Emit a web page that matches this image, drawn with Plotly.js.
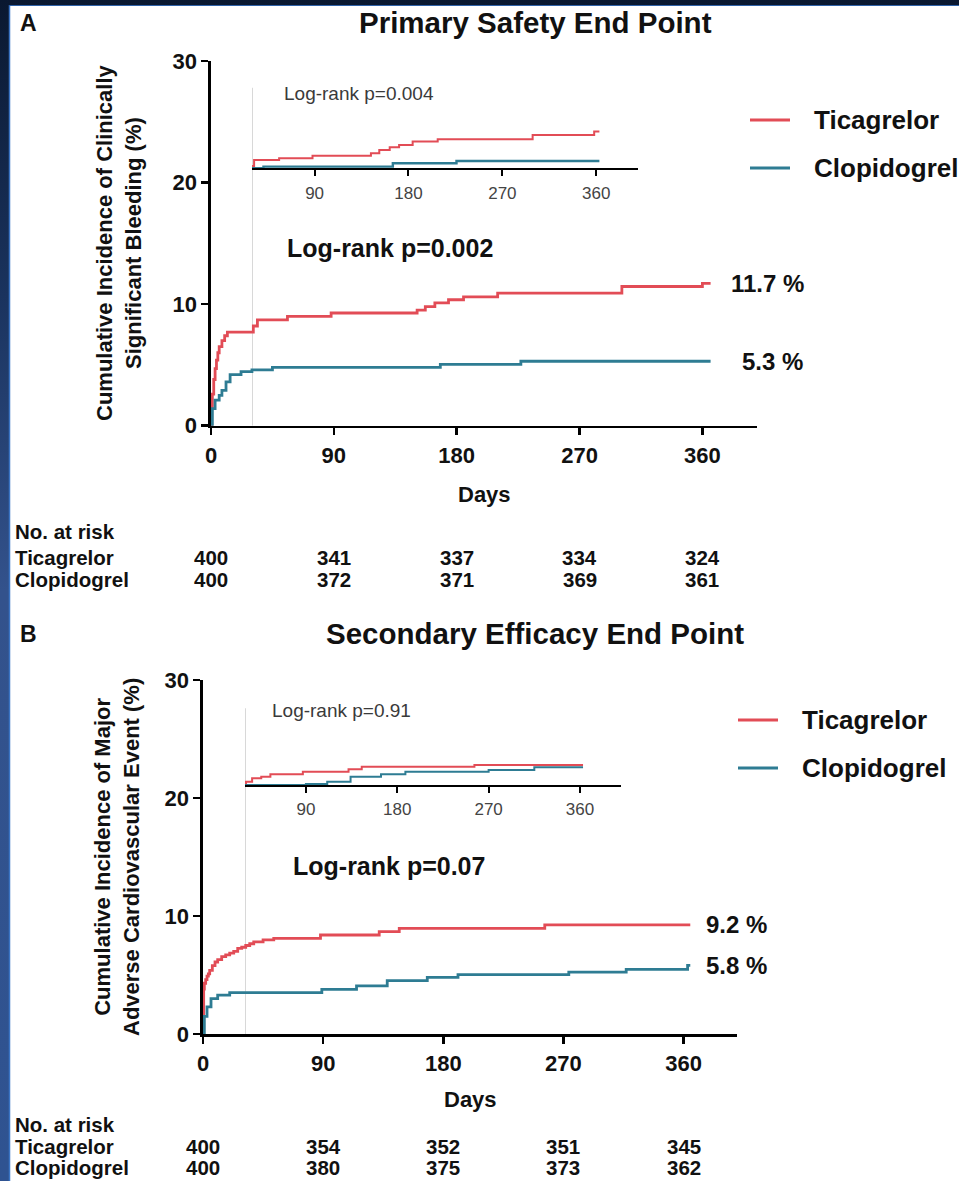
<!DOCTYPE html>
<html><head><meta charset="utf-8">
<script src="https://cdn.plot.ly/plotly-3.0.1.min.js"></script>
<style>
html,body{margin:0;padding:0;width:959px;height:1181px;overflow:hidden;
background:linear-gradient(to bottom,#0a1830 0%,#1a335e 25%,#33528c 50%,#2f5391 100%);}
#chart{position:absolute;left:0;top:0;width:959px;height:1181px;}
</style></head><body><div id="chart"></div>
<script>
// ---------- Data ----------
const seriesNames = ['Ticagrelor', 'Clopidogrel'];
const tickDays = [0, 90, 180, 270, 360];
const insetTickDays = [90, 180, 270, 360];

// Panel A - main curves (days, cumulative %)
const dayA_tic = [0,0.5,1,2,3,4,5,6,8,10,12,31,34,56,88,151,157,164,174,185,210,301,360,366];
const cumA_tic = [0,1.5,2.6,3.8,4.7,5.4,6.0,6.5,7.0,7.4,7.7,8.2,8.7,9.0,9.27,9.5,9.8,10.1,10.36,10.6,10.9,11.45,11.7,11.7];
const dayA_clo = [0,1,3,6,8,11,14,22,30,45,168,227,366];
const cumA_clo = [0,1.4,2.1,2.5,2.9,3.6,4.2,4.45,4.6,4.8,5.05,5.3,5.3];
// Panel A - inset (landmark from day 30)
const dayAi_tic = [30,31,32,56,88,144,152,162,171,184,208,299,358,363];
const cumAi_tic = [0,0.23,0.83,1.0,1.26,1.5,1.83,2.1,2.33,2.66,2.9,3.33,3.66,3.66];
const dayAi_clo = [30,41,165,226,363];
const cumAi_clo = [0,0.17,0.5,0.73,0.73];

// Panel B - main curves
const dayB_tic = [0,0.5,1,2,3,4,5,7,9,11,14,17,20,23,26,29,32,35,38,45,53,88,132,147,256,365];
const cumB_tic = [0,3.8,4.3,4.6,4.9,5.1,5.4,5.8,6.1,6.3,6.55,6.7,6.85,7.0,7.25,7.35,7.5,7.65,7.8,7.97,8.1,8.39,8.67,8.95,9.24,9.24];
const dayB_clo = [0,1,3,6,11,20,89,115,138,168,191,274,317,363,365];
const cumB_clo = [0,1.5,2.3,3.0,3.3,3.5,3.79,4.07,4.52,4.8,5.03,5.25,5.48,5.82,5.82];
// Panel B - inset
const dayBi_tic = [30,31,37,46,55,87,132,145,256,363];
const cumBi_tic = [0,0.33,0.67,0.83,1.07,1.33,1.57,1.83,2.0,2.0];
const dayBi_clo = [30,90,111,134,164,188,270,315,363];
const cumBi_clo = [0,0.1,0.33,0.83,1.07,1.33,1.5,1.77,1.77];

// Numbers at risk
const riskA_tic = [400,341,337,334,324];
const riskA_clo = [400,372,371,369,361];
const riskB_tic = [400,354,352,351,345];
const riskB_clo = [400,380,375,373,362];

// Texts
const titleA = 'Primary Safety End Point';
const titleB = 'Secondary Efficacy End Point';
const yTitleA = 'Cumulative Incidence of Clinically<br>Significant Bleeding (%)';
const yTitleB = 'Cumulative Incidence of Major<br>Adverse Cardiovascular Event (%)';
const pMainA = 'Log-rank p=0.002', pInsetA = 'Log-rank p=0.004';
const pMainB = 'Log-rank p=0.07',  pInsetB = 'Log-rank p=0.91';

// ---------- Styling ----------
const W = 959, H = 1181;
const px = x => x / W, py = y => 1 - y / H;
const FF = 'Liberation Sans, Arial, Helvetica, sans-serif';
const COLORS = ['#e24c56', '#2e7c93'];

function mainX(d0, d1, anchor){
  return {domain:[px(d0),px(d1)], anchor:anchor, range:[0,400], tickvals:tickDays,
    showline:true, linecolor:'#000', linewidth:2.6, ticks:'outside', ticklen:7, tickwidth:2.6,
    tickcolor:'#000', showgrid:false, zeroline:false, ticklabelstandoff:1,
    tickfont:{family:FF, size:22, color:'#111', weight:'bold'}};
}
function mainY(d0, d1, anchor){
  return {domain:[py(d0),py(d1)], anchor:anchor, range:[0,30], tickvals:[0,10,20,30],
    showline:true, linecolor:'#000', linewidth:2.6, ticks:'outside', ticklen:7, tickwidth:2.6,
    tickcolor:'#000', showgrid:false, zeroline:false,
    tickfont:{family:FF, size:22, color:'#111', weight:'bold'}};
}
function insetX(d0, d1, anchor){
  return {domain:[px(d0),px(d1)], anchor:anchor, range:[30,400], tickvals:insetTickDays,
    showline:true, linecolor:'#000', linewidth:2, ticks:'outside', ticklen:6, tickwidth:2,
    tickcolor:'#000', showgrid:false, zeroline:false, ticklabelstandoff:2,
    tickfont:{family:FF, size:17, color:'#444'}};
}
function insetY(d0, d1, anchor){
  return {domain:[py(d0),py(d1)], anchor:anchor, range:[0,8], visible:false, showgrid:false, zeroline:false};
}

function step(x, y, color, width, xa, ya, name){
  return {type:'scatter', mode:'lines', x:x, y:y, xaxis:xa, yaxis:ya, name:name,
    line:{color:color, width:width, shape:'hv'}, showlegend:false, hoverinfo:'skip'};
}

const data = [
  step(dayA_tic, cumA_tic, COLORS[0], 2.8, 'x', 'y', seriesNames[0]),
  step(dayA_clo, cumA_clo, COLORS[1], 2.8, 'x', 'y', seriesNames[1]),
  step(dayAi_tic, cumAi_tic, COLORS[0], 2, 'x2', 'y2', seriesNames[0]),
  step(dayAi_clo, cumAi_clo, COLORS[1], 2.4, 'x2', 'y2', seriesNames[1]),
  step(dayB_tic, cumB_tic, COLORS[0], 2.8, 'x3', 'y3', seriesNames[0]),
  step(dayB_clo, cumB_clo, COLORS[1], 2.8, 'x3', 'y3', seriesNames[1]),
  step(dayBi_tic, cumBi_tic, COLORS[0], 2, 'x4', 'y4', seriesNames[0]),
  step(dayBi_clo, cumBi_clo, COLORS[1], 2, 'x4', 'y4', seriesNames[1])
];

function ann(text, x, y, o){
  return Object.assign({text:text, x:x, y:y, xref:'paper', yref:'paper', showarrow:false,
    xanchor:'left', yanchor:'middle', font:{family:FF, size:20.5, color:'#111', weight:'bold'}}, o||{});
}
const bold = (s, c) => ({family:FF, size:s, color:c||'#111', weight:'bold'});

const annotations = [
  ann('A', px(18), py(23), {font:bold(23)}),
  ann(titleA, px(535), py(22), {xanchor:'center', font:bold(29.5)}),
  ann(yTitleA, px(119), py(243), {xanchor:'center', textangle:-90, font:bold(22)}),
  ann(pMainA, px(285), py(248), {font:bold(25)}),
  ann(pInsetA, px(282), py(93), {font:{family:FF, size:19, color:'#3a3a3a'}}),
  ann(cumA_tic[cumA_tic.length-1].toFixed(1)+' %', px(729), cumA_tic[cumA_tic.length-1], {yref:'y', font:bold(24)}),
  ann(cumA_clo[cumA_clo.length-1].toFixed(1)+' %', px(740), cumA_clo[cumA_clo.length-1], {yref:'y', font:bold(24)}),
  ann('Days', 200, py(495), {xref:'x', xanchor:'center', font:bold(22)}),
  ann('No. at risk', px(13), py(531)),
  ann(seriesNames[0], px(13), py(557)),
  ann(seriesNames[1], px(13), py(579)),

  ann('B', px(18), py(634), {font:bold(23)}),
  ann(titleB, px(535), py(633), {xanchor:'center', font:bold(29.5)}),
  ann(yTitleB, px(117), py(857), {xanchor:'center', textangle:-90, font:bold(22)}),
  ann(pMainB, px(291), py(866), {font:bold(25)}),
  ann(pInsetB, px(270), py(710), {font:{family:FF, size:19, color:'#3a3a3a'}}),
  ann(cumB_tic[cumB_tic.length-1].toFixed(1)+' %', px(704), cumB_tic[cumB_tic.length-1], {yref:'y3', font:bold(24)}),
  ann(cumB_clo[cumB_clo.length-1].toFixed(1)+' %', px(704), cumB_clo[cumB_clo.length-1], {yref:'y3', font:bold(24)}),
  ann('Days', 200, py(1099), {xref:'x3', xanchor:'center', font:bold(22)}),
  ann('No. at risk', px(13), py(1124)),
  ann(seriesNames[0], px(13), py(1146)),
  ann(seriesNames[1], px(13), py(1167))
];
tickDays.forEach((d, i) => {
  annotations.push(ann(String(riskA_tic[i]), d, py(557), {xref:'x', xanchor:'center'}));
  annotations.push(ann(String(riskA_clo[i]), d, py(579), {xref:'x', xanchor:'center'}));
  annotations.push(ann(String(riskB_tic[i]), d, py(1146), {xref:'x3', xanchor:'center'}));
  annotations.push(ann(String(riskB_clo[i]), d, py(1167), {xref:'x3', xanchor:'center'}));
});

const shapes = [
  {type:'rect', xref:'paper', yref:'paper', x0:px(9), x1:1, y0:0, y1:py(5), fillcolor:'#ffffff', line:{width:0}, layer:'below'},
  {type:'line', xref:'paper', yref:'paper', x0:px(9.5), x1:px(9.5), y0:0, y1:py(5), line:{color:'#3a74c4', width:1.5}, layer:'below'},
  {type:'line', xref:'paper', yref:'paper', x0:px(9), x1:1, y0:py(5.5), y1:py(5.5), line:{color:'#2f62a8', width:1.2}, layer:'below'},
  {type:'line', xref:'x2', yref:'y', x0:30, x1:30, y0:0, y1:27.8, line:{color:'#cfcfcf', width:1.6}, layer:'below'},
  {type:'line', xref:'x4', yref:'y3', x0:30, x1:30, y0:0, y1:27.6, line:{color:'#cfcfcf', width:1.6}, layer:'below'}
];

// Legends (swatch line + label) for each panel
const legendSpec = [
  {lx0:750, lx1:790, tx:812, rows:[120, 168]},
  {lx0:738, lx1:778, tx:800, rows:[720, 768]}
];
legendSpec.forEach(L => {
  seriesNames.forEach((nm, i) => {
    shapes.push({type:'line', xref:'paper', yref:'paper', x0:px(L.lx0), x1:px(L.lx1),
      y0:py(L.rows[i]), y1:py(L.rows[i]), line:{color:COLORS[i], width:3}});
    annotations.push(ann(nm, px(L.tx), py(L.rows[i]), {font:bold(26)}));
  });
});

const layout = {
  width:W, height:H, margin:{l:0,r:0,t:0,b:0},
  paper_bgcolor:'rgba(0,0,0,0)', plot_bgcolor:'rgba(0,0,0,0)',
  showlegend:false,
  xaxis: mainX(211, 757, 'y'),   yaxis: mainY(425.7, 61, 'x'),
  xaxis2: insetX(252, 638, 'y2'), yaxis2: insetY(168.3, 88, 'x2'),
  xaxis3: mainX(203, 737, 'y3'),  yaxis3: mainY(1034, 680, 'x3'),
  xaxis4: insetX(245, 620.6, 'y4'), yaxis4: insetY(785, 705, 'x4'),
  annotations: annotations,
  shapes: shapes
};

Plotly.newPlot('chart', data, layout, {staticPlot:true, displayModeBar:false});
</script></body></html>
